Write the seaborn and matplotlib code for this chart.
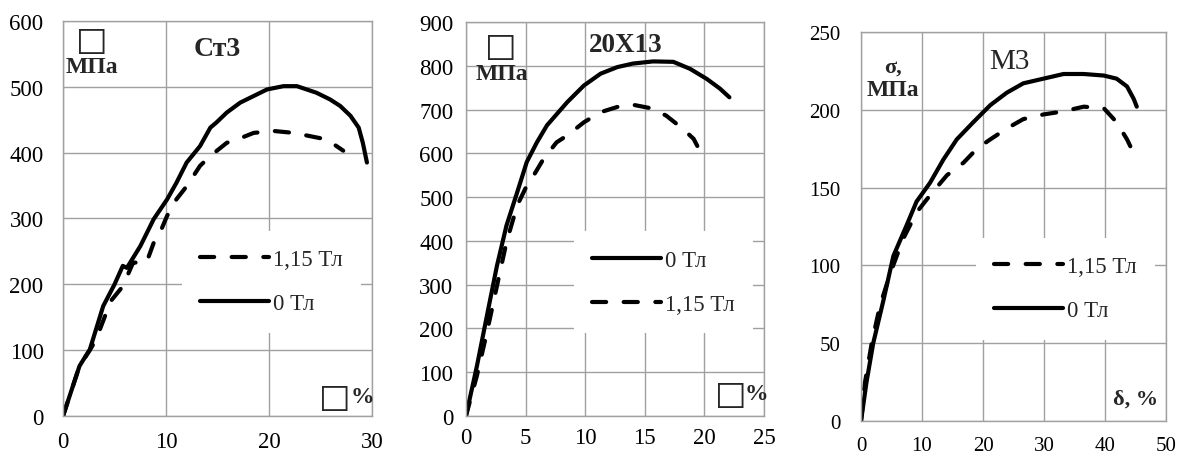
import numpy as np
import pandas as pd
import seaborn as sns
import matplotlib.pyplot as plt
from matplotlib.lines import Line2D

# Ст3 steel
st3_x_0 = [0, 1.6, 2.6, 3.9, 5.0, 5.8, 6.2, 7.5, 8.8, 10.1, 11.0, 12.0, 13.3, 14.3, 14.9,
           15.9, 17.2, 18.5, 19.8, 21.4, 22.7, 24.6, 25.9, 26.9, 27.9, 28.7, 29.1, 29.5]
st3_y_0 = [0, 76, 101, 167, 200, 228, 225, 258, 299, 329, 354, 385, 410, 438, 446,
           461, 476, 486, 496, 501, 501, 491, 481, 471, 456, 438, 415, 385]
st3_x_1 = [0, 1.6, 2.6, 3.2, 4.2, 4.5, 5.8, 6.8, 8.1, 8.8, 9.4, 10.1, 11.0, 12.0, 13.3,
           14.3, 15.9, 16.9, 18.5, 20.4, 22.4, 24.0, 25.6, 27.2]
st3_y_1 = [0, 76, 100, 116, 157, 172, 197, 233, 233, 263, 278, 304, 329, 349, 380,
           395, 415, 420, 430, 433, 430, 425, 420, 403]

# 20Х13 steel
x13_x_0 = [0, 0.92, 1.76, 2.6, 3.4, 4.3, 5.1, 5.95, 6.8, 8.5, 9.9, 11.3, 12.7, 14.0,
           15.7, 17.4, 18.8, 20.2, 21.3, 22.1]
x13_y_0 = [0, 114, 229, 343, 435, 511, 580, 625, 664, 717, 755, 782, 797, 805,
           810, 809, 793, 770, 748, 728]
x13_x_1 = [0, 0.92, 1.76, 2.6, 3.4, 4.3, 5.1, 5.67, 6.5, 7.6, 8.5, 9.9, 11.3, 12.7,
           14.0, 15.7, 16.8, 18.2, 19.1, 19.9]
x13_y_1 = [0, 92, 191, 297, 397, 481, 526, 549, 587, 625, 641, 671, 694, 706,
           711, 702, 686, 656, 633, 591]

# М3 copper
m3_x_0 = [0, 0.9, 2.0, 3.7, 5.3, 7.5, 9.1, 11.3, 13.5, 15.7, 18.4, 21.2, 23.9, 26.6,
          29.9, 33.2, 36.5, 39.8, 41.9, 43.6, 44.7, 45.2]
m3_y_0 = [0, 25, 50, 78, 106, 126, 141, 153, 168, 181, 192, 203, 211, 217,
          220, 223, 223, 222, 220, 215, 207, 202]
m3_x_1 = [0, 0.66, 1.75, 3.1, 4.8, 6.9, 9.1, 11.3, 14.1, 16.8, 19.0, 21.2, 23.9, 26.6,
          29.9, 33.2, 36.5, 39.8, 41.9, 43.6, 45.2]
m3_y_1 = [0, 25, 50, 74, 95, 117, 134, 145, 158, 166, 175, 181, 188, 194,
          197, 199, 202, 201, 192, 181, 168]

labels = ["0 Тл", "1,15 Тл"]
titles = ["Ст3", "20Х13", "М3"]
xlims = [30, 25, 50]
ylims = [600, 900, 250]
xsteps = [10, 5, 10]
ysteps = [100, 100, 50]

sns.set_style("white")
plt.rcParams["font.family"] = ["Liberation Serif", "DejaVu Sans"]

fig = plt.figure(figsize=(11.85, 4.6), dpi=100)
axes = [fig.add_axes([0.0532, 0.0935, 0.2608, 0.8587]),
        fig.add_axes([0.3932, 0.0935, 0.2515, 0.8565]),
        fig.add_axes([0.7266, 0.0826, 0.2574, 0.8457])]

series = [(st3_x_0, st3_y_0, st3_x_1, st3_y_1),
          (x13_x_0, x13_y_0, x13_x_1, x13_y_1),
          (m3_x_0, m3_y_0, m3_x_1, m3_y_1)]
legend_orders = [[1, 0], [0, 1], [1, 0]]
tick_sizes = [16.5, 16.5, 15]
xpads = [11, 8, 11]
ypads = [14, 9, 15]
dash = (0, (3.4, 4.2))

for i, ax in enumerate(axes):
    x0, y0, x1, y1 = series[i]
    df = pd.concat([
        pd.DataFrame({"d": x0, "s": y0, "field": labels[0]}),
        pd.DataFrame({"d": x1, "s": y1, "field": labels[1]}),
    ])
    sns.lineplot(data=df, x="d", y="s", style="field", dashes={labels[0]: "", labels[1]: (3.4, 4.2)},
                 color="black", lw=3.0, sort=False, estimator=None, legend=False, ax=ax)
    for ln in ax.lines:
        ln.set_dash_capstyle("round")
        ln.set_solid_capstyle("round")

    ax.set_xlim(0, xlims[i])
    ax.set_ylim(0, ylims[i])
    ax.set_xticks(np.arange(0, xlims[i] + 1, xsteps[i]))
    ax.set_yticks(np.arange(0, ylims[i] + 1, ysteps[i]))
    ax.grid(True, color="#a0a0a0", lw=1)
    for sp in ax.spines.values():
        sp.set_color("#a0a0a0")
        sp.set_linewidth(1)
    ax.set_xlabel("")
    ax.set_ylabel("")
    ax.tick_params(length=0, labelsize=tick_sizes[i], labelcolor="black")
    ax.tick_params(axis="x", pad=xpads[i])
    ax.tick_params(axis="y", pad=ypads[i])

    handles = [Line2D([], [], color="black", lw=3.0, solid_capstyle="round"),
               Line2D([], [], color="black", lw=3.0, linestyle=dash, dash_capstyle="round")]
    order = legend_orders[i]
    leg = ax.legend([handles[k] for k in order], [labels[k] for k in order],
                    loc="center right", bbox_to_anchor=(1.0, 0.34), fontsize=16.5,
                    handlelength=3.0, handletextpad=0.15, labelspacing=1.0,
                    frameon=True, fancybox=False, framealpha=1, borderpad=0.8)
    leg.get_frame().set_edgecolor("none")
    leg.get_frame().set_facecolor("white")

ax1, ax2, ax3 = axes
box_font = ["DejaVu Sans"]

ax1.text(0.5, 0.93, titles[0], transform=ax1.transAxes, ha="center", va="center",
         fontsize=20, fontweight="bold")
ax1.text(0.094, 0.953, "□", transform=ax1.transAxes, ha="center", va="center",
         fontsize=24, family=box_font)
ax1.text(0.094, 0.885, "МПа", transform=ax1.transAxes, ha="center", va="center",
         fontsize=17, fontweight="bold")
ax1.text(0.88, 0.05, "□", transform=ax1.transAxes, ha="center", va="center",
         fontsize=24, family=box_font)
ax1.text(0.97, 0.05, "%", transform=ax1.transAxes, ha="center", va="center",
         fontsize=17, fontweight="bold")

ax2.text(0.535, 0.944, titles[1], transform=ax2.transAxes, ha="center", va="center",
         fontsize=19.5, fontweight="bold")
ax2.text(0.117, 0.94, "□", transform=ax2.transAxes, ha="center", va="center",
         fontsize=24, family=box_font)
ax2.text(0.12, 0.87, "МПа", transform=ax2.transAxes, ha="center", va="center",
         fontsize=17, fontweight="bold")
ax2.text(0.888, 0.056, "□", transform=ax2.transAxes, ha="center", va="center",
         fontsize=24, family=box_font)
ax2.text(0.975, 0.056, "%", transform=ax2.transAxes, ha="center", va="center",
         fontsize=17, fontweight="bold")

ax3.text(0.485, 0.925, titles[2], transform=ax3.transAxes, ha="center", va="center",
         fontsize=21)
ax3.text(0.105, 0.91, "σ,", transform=ax3.transAxes, ha="center", va="center",
         fontsize=16, fontweight="bold")
ax3.text(0.105, 0.853, "МПа", transform=ax3.transAxes, ha="center", va="center",
         fontsize=17, fontweight="bold")
ax3.text(0.9, 0.057, "δ, %", transform=ax3.transAxes, ha="center", va="center",
         fontsize=16, fontweight="bold")

fig.savefig("out.png", dpi=100)
